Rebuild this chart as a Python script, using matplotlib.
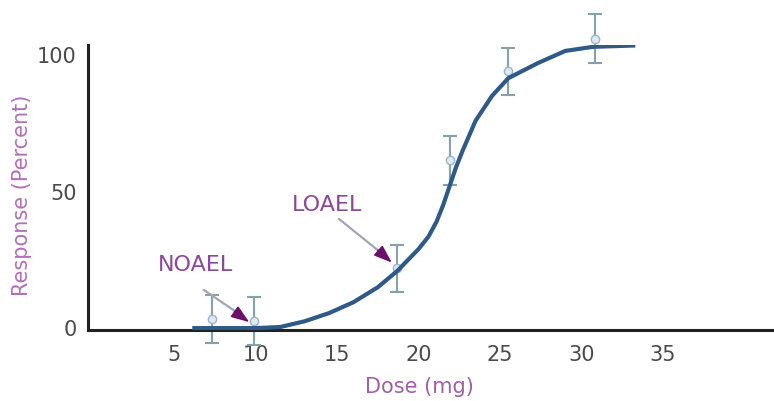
import matplotlib
matplotlib.use("Agg")
import matplotlib.pyplot as plt

# fitted dose-response curve
curve_dose = [6.1, 8, 10, 11.5, 13, 14.5, 16, 17.5, 18.7, 20, 20.6, 21.1, 21.5, 21.9, 22.3, 22.7,
              23.5, 24.5, 25.5, 27.3, 29, 30.7, 33.3]
curve_resp = [0, 0, 0, 0.4, 2.5, 5.5, 9.5, 15, 21, 29, 33.5, 39, 45, 52, 59, 65,
              76, 85, 91.5, 97, 101.5, 103, 103.5]

# measured points with error bars
dose = [7.3, 9.9, 18.7, 21.9, 25.5, 30.8]
resp = [3.3, 2.6, 22, 61.5, 94, 106]
err = [8.8, 8.8, 8.6, 9, 8.6, 9]

xticks = [5, 10, 15, 20, 25, 30, 35]
yticks = [0, 50, 100]

fig = plt.figure(figsize=(7.74, 4.01), dpi=100)
ax = fig.add_axes([0.1137, 0.177, 0.886, 0.711])

ax.errorbar(dose, resp, yerr=err, fmt="o", color="#7f9ea6", ecolor="#86a2a8",
            markerfacecolor="#dde9f3", markeredgecolor="#9ab4c8", markersize=6,
            elinewidth=1.5, capsize=5, capthick=1.5, clip_on=False, zorder=2)
ax.plot(curve_dose, curve_resp, color="#2f5a88", linewidth=3, solid_capstyle="butt",
        solid_joinstyle="round", zorder=3)

ax.set_xlim(-0.3, 41.8)
ax.set_ylim(-0.7, 103.7)
ax.set_xticks(xticks)
ax.set_yticks(yticks)
ax.tick_params(length=0, labelsize=15, labelcolor="#4a4a4a")
ax.tick_params(axis="x", pad=11)
ax.tick_params(axis="y", pad=8)
for s in ["top", "right"]:
    ax.spines[s].set_visible(False)
for s in ["left", "bottom"]:
    ax.spines[s].set_linewidth(2.2)
    ax.spines[s].set_color("#222222")

ax.text(-0.096, 0.474, "Response (Percent)", transform=ax.transAxes, rotation=90,
        fontsize=15, color="#b070b8", ha="center", va="center")
ax.text(0.484, -0.2, "Dose (mg)", transform=ax.transAxes,
        fontsize=15, color="#a060a8", ha="center", va="center")

# arrows: grey shaft, dark purple head
shaft = dict(arrowstyle="-", color="#a4a4b4", lw=1.6, shrinkA=0, shrinkB=0)
head = dict(arrowstyle="-|>,head_length=1.1,head_width=0.4", color="#6a106a",
            lw=1.2, shrinkA=0, shrinkB=0)
ax.annotate("", xy=(8.9, 5.5), xytext=(6.8, 14), arrowprops=shaft, zorder=4)
ax.annotate("", xy=(9.6, 2.2), xytext=(8.7, 6), arrowprops=head, zorder=4)
ax.annotate("", xy=(17.6, 28), xytext=(15.1, 40), arrowprops=shaft, zorder=4)
ax.annotate("", xy=(18.35, 24), xytext=(17.5, 28.5), arrowprops=head, zorder=4)
ax.text(6.3, 23, "NOAEL", fontsize=16, color="#8a4a9a", ha="center", va="center")
ax.text(14.4, 45, "LOAEL", fontsize=16, color="#8a4a9a", ha="center", va="center")

fig.savefig("out.png", dpi=100)
